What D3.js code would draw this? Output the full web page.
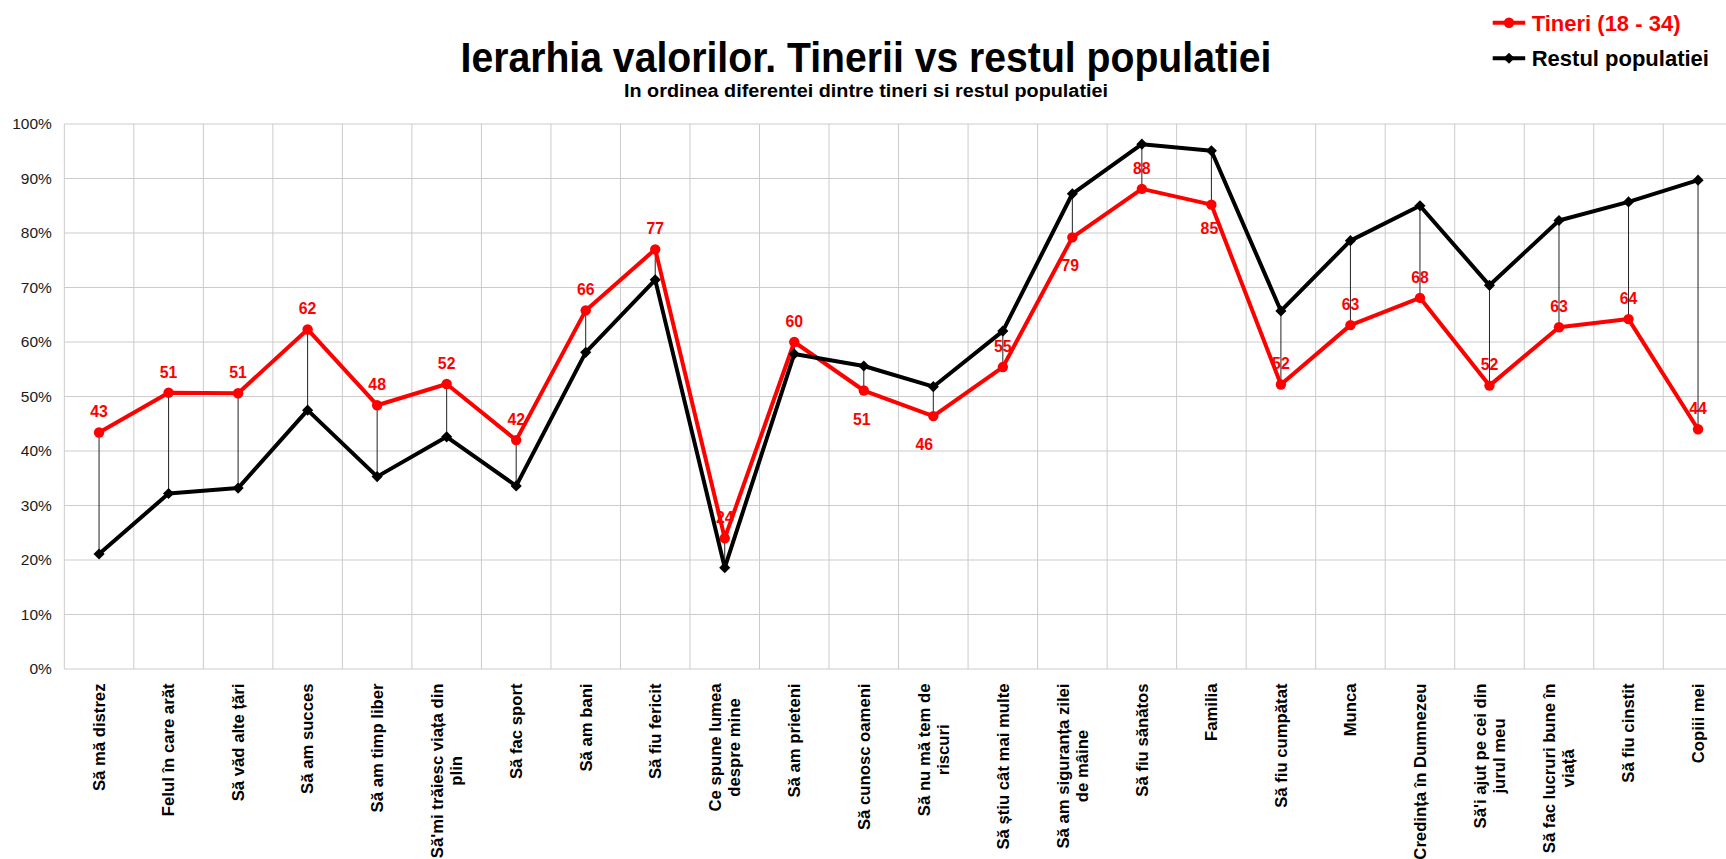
<!DOCTYPE html>
<html>
<head>
<meta charset="utf-8">
<script src="https://cdn.jsdelivr.net/npm/d3@7"></script>
<style>
    body { margin: 0; background: #fff; }
    svg { display: block; font-family: "Liberation Sans", Arial, sans-serif; }
</style>
</head>
<body>
<svg id="drawing_region"></svg>
<script>
const categories = [
    "Să mă distrez",
    "Felul în care arăt",
    "Să văd alte țări",
    "Să am succes",
    "Să am timp liber",
    "Să'mi trăiesc viața din\nplin",
    "Să fac sport",
    "Să am bani",
    "Să fiu fericit",
    "Ce spune lumea\ndespre mine",
    "Să am prieteni",
    "Să cunosc oameni",
    "Să nu mă tem de\nriscuri",
    "Să știu cât mai multe",
    "Să am siguranța zilei\nde mâine",
    "Să fiu sănătos",
    "Familia",
    "Să fiu cumpătat",
    "Munca",
    "Credința în Dumnezeu",
    "Să'i ajut pe cei din\njurul meu",
    "Să fac lucruri bune în\nviață",
    "Să fiu cinstit",
    "Copiii mei"
];

// Tineri (18 - 34), in %
const tineri = [43.4, 50.7, 50.6, 62.3, 48.4, 52.3, 42.0, 65.8, 77.0, 24.0, 60.0, 51.1,
                46.4, 55.4, 79.2, 88.1, 85.2, 52.2, 63.1, 68.1, 52.0, 62.7, 64.2, 44.0];

// Restul populatiei, in %
const restul = [21.1, 32.2, 33.2, 47.5, 35.3, 42.6, 33.6, 58.1, 71.4, 18.6, 57.8, 55.6,
                51.8, 62.0, 87.2, 96.3, 95.1, 65.7, 78.6, 85.0, 70.4, 82.3, 85.7, 89.7];

const seriesNames = ["Tineri (18 - 34)", "Restul populatiei"];
const yTicks = [0, 10, 20, 30, 40, 50, 60, 70, 80, 90, 100];

const titleText = "Ierarhia valorilor. Tinerii vs restul populatiei";
const subtitleText = "In ordinea diferentei dintre tineri si restul populatiei";


class LineChart {

    constructor( config ) {
        this.config = {
            parent: config.parent,
            width: config.width || 1726,
            height: config.height || 859,
            margin: config.margin || {top:10, right:10, bottom:10, left:10},
        }
        this.init();
    }

    init() {
        let self = this;

        self.svg = d3.select( self.config.parent )
            .attr('width', self.config.width)
            .attr('height', self.config.height);

        self.chart = self.svg.append('g')
            .attr('transform', `translate(${self.config.margin.left}, ${self.config.margin.top})`);

        // plot area runs a bit past the right edge of the picture
        self.inner_width = self.config.width - self.config.margin.left - self.config.margin.right;
        self.inner_height = self.config.height - self.config.margin.top - self.config.margin.bottom;

        self.xscale = d3.scaleBand()
            .domain(categories)
            .range([0, self.inner_width])
            .padding(0);

        self.yscale = d3.scaleLinear()
            .domain([0, 100])
            .range([self.inner_height, 0]);

        self.yaxis = d3.axisLeft( self.yscale )
            .tickValues(yTicks)
            .tickFormat(d => d + "%")
            .tickSize(0)
            .tickPadding(12.5);
    }

    render() {
        let self = this;
        const bw = self.xscale.bandwidth();
        const cx = i => self.xscale(categories[i]) + bw / 2;

        // grid
        const grid = self.chart.append('g');
        grid.selectAll('line.h')
            .data(yTicks)
            .join('line')
            .attr('x1', 0)
            .attr('x2', self.inner_width)
            .attr('y1', d => self.yscale(d))
            .attr('y2', d => self.yscale(d))
            .attr('stroke', '#cbcbcb')
            .attr('stroke-width', 1);
        grid.selectAll('line.v')
            .data(categories.map(c => self.xscale(c)).concat([self.inner_width]))
            .join('line')
            .attr('x1', d => d)
            .attr('x2', d => d)
            .attr('y1', 0)
            .attr('y2', self.inner_height)
            .attr('stroke', '#cbcbcb')
            .attr('stroke-width', 1);

        // y axis
        self.yaxis_group = self.chart.append('g').call( self.yaxis );
        self.yaxis_group.select('.domain').remove();
        self.yaxis_group.selectAll('text')
            .attr('font-size', '15.5px')
            .attr('font-family', '"Liberation Sans", Arial, sans-serif')
            .attr('fill', '#1a1a1a');

        // category labels (rotated, wrapped)
        const lh = 19;
        const labels = self.chart.append('g')
            .attr('font-size', '16.7px')
            .attr('font-weight', 'bold')
            .attr('fill', '#000');
        categories.forEach((c, i) => {
            const lines = c.split('\n');
            const g = labels.append('g')
                .attr('transform', `translate(${cx(i)}, ${self.inner_height + 14.5}) rotate(-90)`);
            const texts = g.selectAll('text')
                .data(lines)
                .join('text')
                .attr('y', (d, k) => (k - (lines.length - 1) / 2) * lh)
                .attr('dy', '0.35em')
                .text(d => d);
            let maxLen = 0;
            texts.each(function() { maxLen = Math.max(maxLen, this.getComputedTextLength()); });
            texts.attr('text-anchor', 'middle').attr('x', -maxLen / 2);
        });

        // data labels for Tineri
        const below = [11, 12, 14, 16];
        self.chart.append('g')
            .selectAll('text')
            .data(tineri)
            .join('text')
            .attr('x', (d, i) => cx(i) + (below.includes(i) ? (i === 12 ? -9 : -2) : 0))
            .attr('y', (d, i) => self.yscale(d) + (below.includes(i) ? (i === 16 ? 24 : 28.5) : -20.7))
            .attr('dy', '0.35em')
            .attr('text-anchor', 'middle')
            .attr('font-size', '15.8px')
            .attr('font-weight', 'bold')
            .attr('fill', '#ff0000')
            .text(d => Math.round(d));

        // high-low drop lines
        self.chart.append('g')
            .selectAll('line')
            .data(categories)
            .join('line')
            .attr('x1', (d, i) => cx(i))
            .attr('x2', (d, i) => cx(i))
            .attr('y1', (d, i) => self.yscale(tineri[i]))
            .attr('y2', (d, i) => self.yscale(restul[i]))
            .attr('stroke', '#222')
            .attr('stroke-width', 1);

        const line = d3.line()
            .x((d, i) => cx(i))
            .y(d => self.yscale(d));

        // Tineri
        self.chart.append('path')
            .datum(tineri)
            .attr('d', line)
            .attr('fill', 'none')
            .attr('stroke', '#ff0000')
            .attr('stroke-width', 4)
            .attr('stroke-linejoin', 'round');
        self.chart.append('g')
            .selectAll('circle')
            .data(tineri)
            .join('circle')
            .attr('cx', (d, i) => cx(i))
            .attr('cy', d => self.yscale(d))
            .attr('r', 5.2)
            .attr('fill', '#ff0000');

        // Restul populatiei
        self.chart.append('path')
            .datum(restul)
            .attr('d', line)
            .attr('fill', 'none')
            .attr('stroke', '#000')
            .attr('stroke-width', 4)
            .attr('stroke-linejoin', 'round');
        const diamond = d3.symbol(d3.symbolSquare, 62);
        self.chart.append('g')
            .selectAll('path')
            .data(restul)
            .join('path')
            .attr('d', diamond)
            .attr('transform', (d, i) => `translate(${cx(i)}, ${self.yscale(d)}) rotate(45)`)
            .attr('fill', '#000');

        // titles
        self.svg.append('text')
            .attr('x', 866)
            .attr('y', 71.5)
            .attr('text-anchor', 'middle')
            .attr('font-size', '42px')
            .attr('font-weight', 'bold')
            .attr('textLength', 811)
            .attr('lengthAdjust', 'spacingAndGlyphs')
            .text(titleText);
        self.svg.append('text')
            .attr('x', 866)
            .attr('y', 97)
            .attr('text-anchor', 'middle')
            .attr('font-size', '17.5px')
            .attr('font-weight', 'bold')
            .attr('textLength', 484)
            .attr('lengthAdjust', 'spacingAndGlyphs')
            .text(subtitleText);

        // legend
        const legend = self.svg.append('g')
            .attr('transform', 'translate(1492.7, 22.7)');
        const colors = ['#ff0000', '#000'];
        seriesNames.forEach((name, k) => {
            const row = legend.append('g').attr('transform', `translate(0, ${k * 35.6})`);
            row.append('line')
                .attr('x1', 0).attr('x2', 32.5)
                .attr('y1', 0).attr('y2', 0)
                .attr('stroke', colors[k])
                .attr('stroke-width', 4);
            if (k === 0) {
                row.append('circle').attr('cx', 16.3).attr('cy', 0).attr('r', 5.2).attr('fill', colors[k]);
            } else {
                row.append('path').attr('d', diamond)
                    .attr('transform', 'translate(16.3, 0) rotate(45)')
                    .attr('fill', colors[k]);
            }
            row.append('text')
                .attr('x', 39)
                .attr('dy', '0.36em')
                .attr('font-size', '22px')
                .attr('font-weight', 'bold')
                .attr('fill', colors[k])
                .text(name);
        });
    }
}

const config = {
    parent: '#drawing_region',
    width: 1726,
    height: 859,
    // right margin negative: the plot area is cut by the picture's right edge
    margin: {top: 124, right: -6.8, bottom: 190, left: 64.3}
};

const chart = new LineChart( config );
chart.render();
</script>
</body>
</html>
